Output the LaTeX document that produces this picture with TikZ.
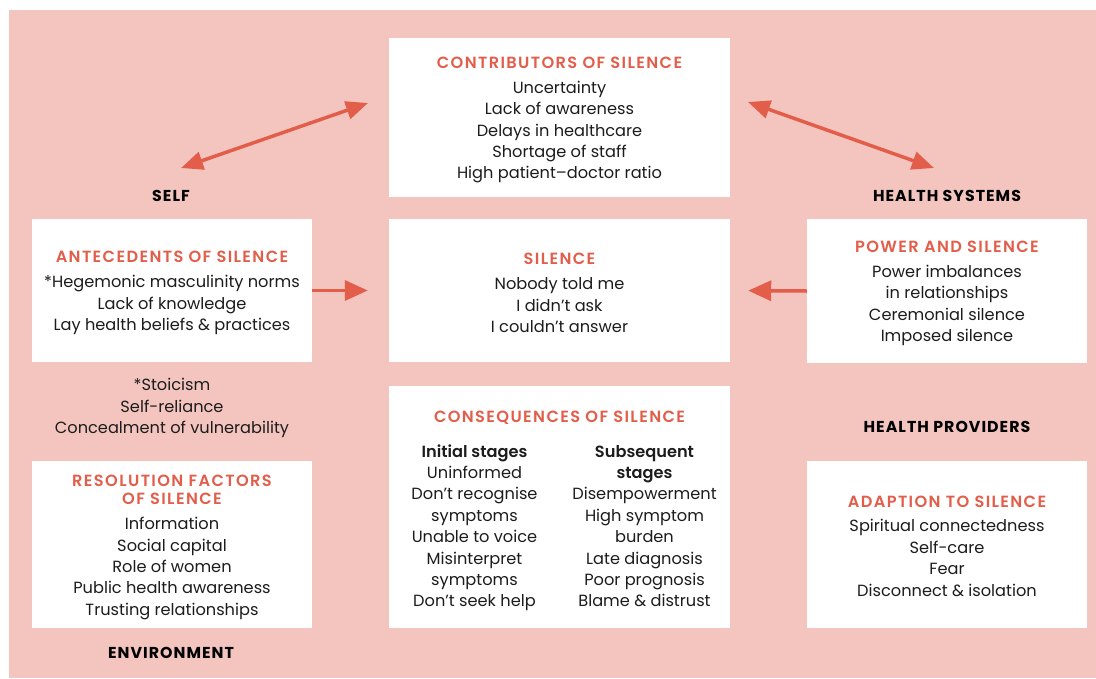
\documentclass[tikz,border=0pt]{standalone}
\usepackage{fontspec}
\usepackage{array}
\setmainfont{Poppins}[BoldFont={Poppins SemiBold}]
\newfontfamily\dglblfont{Poppins}[LetterSpace=6.5]
\usetikzlibrary{arrows.meta}
\definecolor{bgpink}{RGB}{244,197,191}
\definecolor{accent}{RGB}{227,94,74}
\definecolor{ink}{RGB}{28,28,28}
\newcommand\dgbody{\fontsize{16.2}{21.4}\selectfont}
\newcommand\dgttl[1]{{\color{accent}\bfseries\addfontfeatures{LetterSpace=8.5}#1}}
\newcolumntype{C}{>{\centering\arraybackslash}p{150pt}}
\begin{document}
\begin{tikzpicture}[x=1pt,y=-1pt,
  box/.style={fill=white, draw=none, inner sep=0pt},
  txt/.style={inner sep=0pt, align=center, font=\dgbody, text=ink},
  lbl/.style={inner sep=0pt, font=\dglblfont\fontsize{15.8}{17}\selectfont\bfseries, text=black},
  arr/.style={draw=accent, line width=3.5pt, -{Triangle[length=23pt,width=20pt]}},
  darr/.style={draw=accent, line width=3.5pt, {Triangle[length=22pt,width=18pt]}-{Triangle[length=22pt,width=18pt]}}
]
\useasboundingbox (0,0) rectangle (1096,678);
\fill[bgpink] (9,10) rectangle (1096,678);

% boxes
\node[box, minimum width=341pt, minimum height=159pt] (contrib) at (559.5,117.5) {};
\node[box, minimum width=280pt, minimum height=143pt] (antec) at (172,290.5) {};
\node[box, minimum width=341pt, minimum height=143pt] (silence) at (559.5,290.5) {};
\node[box, minimum width=280pt, minimum height=144pt] (power) at (947,291) {};
\node[box, minimum width=341pt, minimum height=242pt] (conseq) at (559.5,507) {};
\node[box, minimum width=280pt, minimum height=167pt] (resol) at (172,544.5) {};
\node[box, minimum width=280pt, minimum height=167pt] (adapt) at (947,544.5) {};

% box texts
\node[txt] (contribT) at ([yshift=-2.5pt]contrib.center)
  {\dgttl{CONTRIBUTORS OF SILENCE}\\[3.5pt]Uncertainty\\Lack of awareness\\Delays in healthcare\\Shortage of staff\\High patient–doctor ratio};
\node[txt] (antecT) at ([yshift=-2.5pt]antec.center)
  {\dgttl{ANTECEDENTS OF SILENCE}\\[3.5pt]*Hegemonic masculinity norms\\Lack of knowledge\\Lay health beliefs \& practices};
\node[txt] (silenceT) at ([yshift=-2.5pt]silence.center)
  {\dgttl{SILENCE}\\[3.5pt]Nobody told me\\I didn’t ask\\I couldn’t answer};
\node[txt] (powerT) at ([yshift=-2.5pt]power.center)
  {\dgttl{POWER AND SILENCE}\\[3.5pt]Power imbalances\\in relationships\\Ceremonial silence\\Imposed silence};
\node[txt] (conseqT) at ([yshift=-5pt]conseq.center)
  {\dgttl{CONSEQUENCES OF SILENCE}\\[13.6pt]%
   \begin{tabular}[t]{@{}C@{\hspace{20pt}}C@{}}
   \bfseries Initial stages & \bfseries Subsequent\\
   Uninformed & \bfseries stages\\
   Don’t recognise & Disempowerment\\
   symptoms & High symptom\\
   Unable to voice & burden\\
   Misinterpret & Late diagnosis\\
   symptoms & Poor prognosis\\
   Don’t seek help & Blame \& distrust
   \end{tabular}};
\node[txt] (resolT) at ([yshift=-3pt]resol.center)
  {\dgttl{RESOLUTION FACTORS}\\[-3.4pt]\dgttl{OF SILENCE}\\[3.5pt]Information\\Social capital\\Role of women\\Public health awareness\\Trusting relationships};
\node[txt] (adaptT) at ([yshift=-1.5pt]adapt.center)
  {\dgttl{ADAPTION TO SILENCE}\\[3.5pt]Spiritual connectedness\\Self-care\\Fear\\Disconnect \& isolation};

\node[txt] (stoic) at (172,408) {*Stoicism\\Self-reliance\\Concealment of vulnerability};

\node[lbl] (self) at (171,196) {SELF};
\node[lbl] (hsys) at (947,196) {HEALTH SYSTEMS};
\node[lbl] (hprov) at (947,427) {HEALTH PROVIDERS};
\node[lbl] (env) at (171,653) {ENVIRONMENT};

\coordinate (selftip) at (181,168);
\coordinate (contribL) at (368,103);
\coordinate (contribR) at (748,102);
\coordinate (hsystip) at (934,168);

\draw[darr] (selftip) -- (contribL);
\draw[darr] (contribR) -- (hsystip);
\draw[arr, shorten >=21pt] (antec.east) -- (silence.west);
\draw[arr, shorten >=18pt] (power.west) -- (silence.east);
\end{tikzpicture}
\end{document}
